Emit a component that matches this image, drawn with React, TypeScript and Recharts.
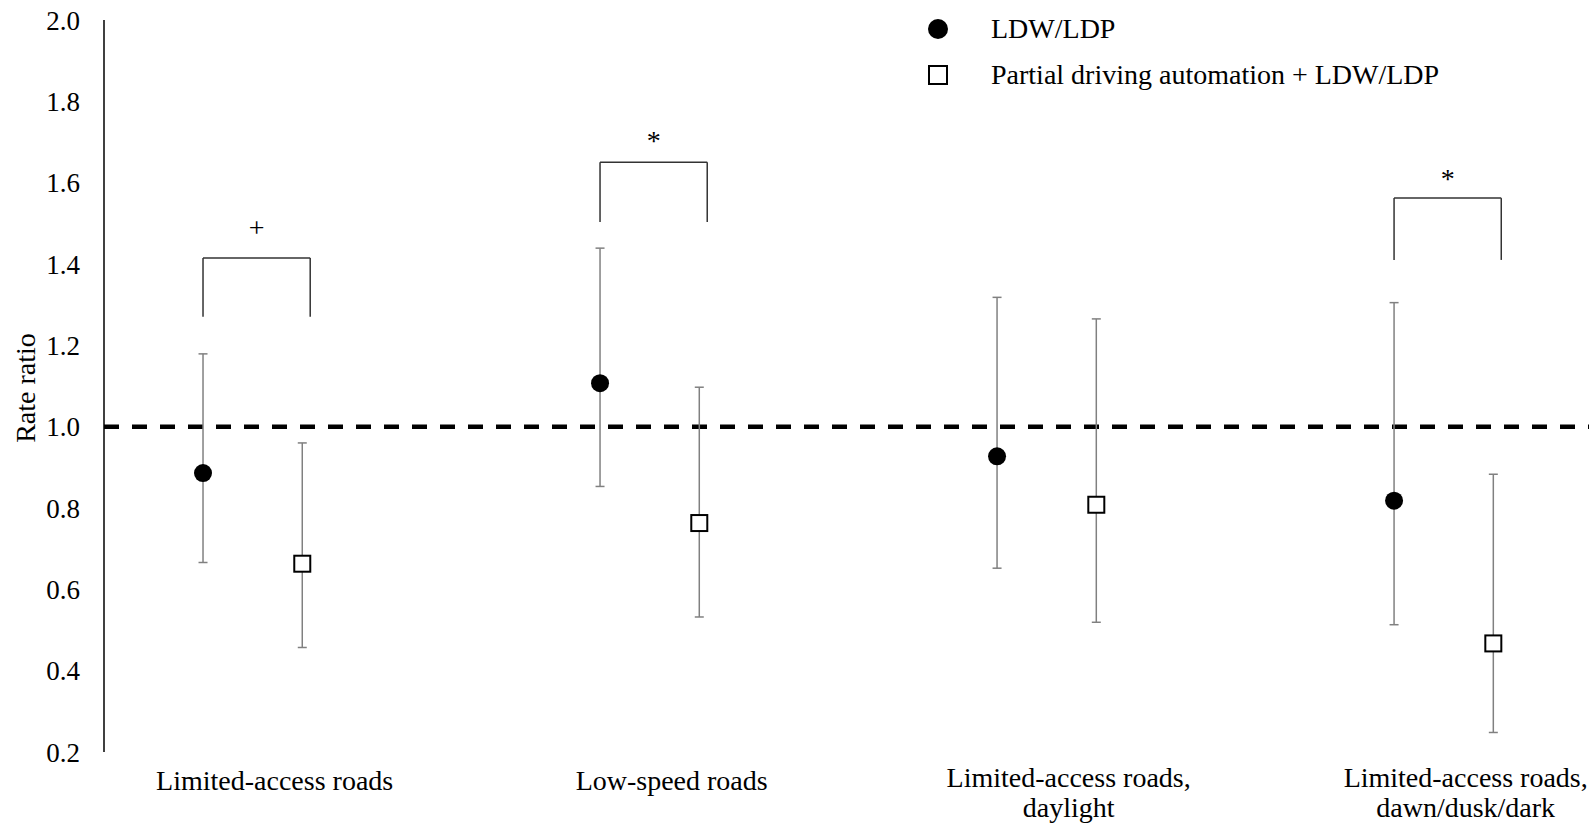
import {
  ComposedChart,
  ErrorBar,
  Label,
  Legend,
  ReferenceDot,
  ReferenceLine,
  Scatter,
  XAxis,
  YAxis,
} from "recharts";

const categories = [
  "Limited-access roads",
  "Low-speed roads",
  "Limited-access roads,\ndaylight",
  "Limited-access roads,\ndawn/dusk/dark",
];
const seriesNames = ["LDW/LDP", "Partial driving automation + LDW/LDP"];

// rate ratio with 95% CI
const ldwRate = [0.886, 1.107, 0.927, 0.818];
const ldwLow = [0.666, 0.853, 0.652, 0.513];
const ldwHigh = [1.179, 1.439, 1.318, 1.305];

const pdaRate = [0.663, 0.763, 0.808, 0.467];
const pdaLow = [0.457, 0.532, 0.519, 0.248];
const pdaHigh = [0.96, 1.097, 1.265, 0.883];

const yTicks = [0.2, 0.4, 0.6, 0.8, 1.0, 1.2, 1.4, 1.6, 1.8, 2.0];

// significance brackets
const bracketCategory = [0, 1, 3];
const bracketTop = [1.415, 1.65, 1.562];
const bracketBottom = [1.27, 1.503, 1.41];
const bracketMark = ["+", "*", "*"];
const bracketMarkY = [1.49, 1.705, 1.612];

const FONT = "'Liberation Serif', 'Times New Roman', serif";
const PAIR_SHIFT = 0.125;
const BRACKET_LEFT = -0.125;
const BRACKET_RIGHT = 0.145;
const LABEL_DX = 22;

const toPoints = (rate: number[], low: number[], high: number[], shift: number) =>
  rate.map((v, i) => ({ x: i + shift, y: v, err: [v - low[i], high[i] - v] }));

const ldwPoints = toPoints(ldwRate, ldwLow, ldwHigh, -PAIR_SHIFT);
const pdaPoints = toPoints(pdaRate, pdaLow, pdaHigh, PAIR_SHIFT);

const CategoryTick = (props: any) => {
  const { x, y, payload } = props;
  const lines: string[] = (categories[Math.round(payload.value)] ?? "").split("\n");
  return (
    <text x={x + LABEL_DX} y={y} textAnchor="middle" fontFamily={FONT} fontSize={28} fill="#000">
      {lines.map((line, i) => (
        <tspan key={i} x={x + LABEL_DX} dy={i === 0 ? (lines.length > 1 ? 35 : 38) : 30}>
          {line}
        </tspan>
      ))}
    </text>
  );
};

const renderLegend = () => (
  <div style={{ fontFamily: FONT, fontSize: 28, color: "#000", lineHeight: 1 }}>
    {seriesNames.map((name, i) => (
      <div key={name} style={{ display: "flex", alignItems: "center", height: 46 }}>
        <svg width={20} height={20}>
          {i === 0 ? (
            <circle cx={10} cy={10} r={10} fill="#000" />
          ) : (
            <rect x={1} y={1} width={18} height={18} fill="#fff" stroke="#000" strokeWidth={2} />
          )}
        </svg>
        <span style={{ marginLeft: 43, whiteSpace: "nowrap" }}>{name}</span>
      </div>
    ))}
  </div>
);

const App = () => {
  const brackets = bracketCategory.flatMap((k, i) => {
    const left = k + BRACKET_LEFT;
    const right = k + BRACKET_RIGHT;
    const lineProps = { stroke: "#333", strokeWidth: 1.5 };
    return [
      <ReferenceLine key={`bl${i}`} segment={[{ x: left, y: bracketBottom[i] }, { x: left, y: bracketTop[i] }]} {...lineProps} />,
      <ReferenceLine key={`bt${i}`} segment={[{ x: left, y: bracketTop[i] }, { x: right, y: bracketTop[i] }]} {...lineProps} />,
      <ReferenceLine key={`br${i}`} segment={[{ x: right, y: bracketTop[i] }, { x: right, y: bracketBottom[i] }]} {...lineProps} />,
      <ReferenceDot
        key={`bm${i}`}
        x={(left + right) / 2}
        y={bracketMarkY[i]}
        r={0}
        fill="none"
        stroke="none"
        label={{ value: bracketMark[i], position: "center", fill: "#000", fontSize: 28, fontFamily: FONT }}
      />,
    ];
  });

  return (
    <div style={{ position: "absolute", left: 0, top: 0, background: "#fff" }}>
      <ComposedChart width={1589} height={827} margin={{ top: 20, right: 0, bottom: 0, left: 0 }}>
        <XAxis
          type="number"
          dataKey="x"
          domain={[-0.3744, 3.366]}
          ticks={[0, 1, 2, 3]}
          interval={0}
          allowDataOverflow
          axisLine={false}
          tickLine={false}
          tickSize={0}
          tickMargin={0}
          height={75}
          tick={(p: any) => <CategoryTick {...p} />}
        />
        <YAxis
          type="number"
          domain={[0.2, 2]}
          ticks={yTicks}
          interval={0}
          allowDataOverflow
          width={104}
          axisLine={{ stroke: "#000", strokeWidth: 1.5 }}
          tickLine={false}
          tickSize={0}
          tickMargin={24}
          tickFormatter={(v: number) => v.toFixed(1)}
          tick={{ fill: "#000", fontSize: 27, fontFamily: FONT }}
        >
          <Label
            content={(p: any) => {
              const vb = p.viewBox || { x: 0, y: 20, height: 733 };
              const cx = vb.x + 35;
              const cy = vb.y + vb.height / 2 + 2;
              return (
                <text
                  x={cx}
                  y={cy}
                  transform={`rotate(-90, ${cx}, ${cy})`}
                  textAnchor="middle"
                  fontFamily={FONT}
                  fontSize={28}
                  fill="#000"
                >
                  Rate ratio
                </text>
              );
            }}
          />
        </YAxis>
        <Legend
          layout="vertical"
          align="center"
          verticalAlign="middle"
          content={renderLegend}
          wrapperStyle={{ left: 928, top: 6, width: 620 }}
        />
        <ReferenceLine y={1} stroke="#000" strokeWidth={4.5} strokeDasharray="15 13" />
        {brackets}
        <Scatter
          name={seriesNames[0]}
          data={ldwPoints}
          dataKey="y"
          isAnimationActive={false}
          shape={(p: any) => <circle cx={p.cx} cy={p.cy} r={9} fill="#000" />}
        >
          <ErrorBar dataKey="err" direction="y" width={4.5} stroke="#808080" strokeWidth={1.5} />
        </Scatter>
        <Scatter
          name={seriesNames[1]}
          data={pdaPoints}
          dataKey="y"
          isAnimationActive={false}
          shape={(p: any) => (
            <rect x={p.cx - 8} y={p.cy - 8} width={16} height={16} fill="#fff" stroke="#000" strokeWidth={2} />
          )}
        >
          <ErrorBar dataKey="err" direction="y" width={4.5} stroke="#808080" strokeWidth={1.5} />
        </Scatter>
      </ComposedChart>
    </div>
  );
};

export default App;
